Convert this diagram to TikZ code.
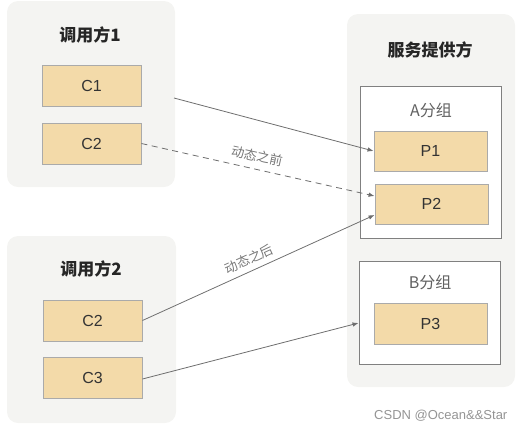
\documentclass[tikz,border=0pt]{standalone}
\usepackage{fontspec}
\setmainfont{Liberation Sans}
\newfontfamily\cjk{Noto Sans CJK SC}
\usetikzlibrary{arrows.meta}
\definecolor{panelgray}{HTML}{F4F4F2}
\definecolor{tan}{HTML}{F3DAA9}
\definecolor{tanborder}{HTML}{AAAAAA}
\definecolor{grpborder}{HTML}{808080}
\definecolor{linegray}{HTML}{6E6E6E}
\definecolor{labelgray}{HTML}{777777}
\definecolor{textdark}{HTML}{333333}
\tikzset{
  panel/.style={fill=panelgray, draw=none, rounded corners=11pt, inner sep=0pt},
  itembox/.style={fill=tan, draw=tanborder, line width=0.9pt, inner sep=0pt,
    minimum width=99pt, minimum height=41pt, font=\fontsize{16}{18}\selectfont, text=textdark},
  pbox/.style={itembox, minimum width=113pt, minimum height=40pt},
  grpbox/.style={fill=white, draw=grpborder, line width=0.9pt, inner sep=0pt},
  titletext/.style={font=\cjk\bfseries\fontsize{17}{19}\selectfont, text=black!85},
  grptext/.style={font=\cjk\fontsize{16}{18}\selectfont, text=black!62},
  conn/.style={draw=linegray, line width=0.8pt, -{Latex[length=6pt,width=4.5pt]}},
  connlabel/.style={font=\cjk\fontsize{13}{15}\selectfont, text=labelgray, inner sep=1pt}
}
\begin{document}
\begin{tikzpicture}[x=1pt,y=-1pt]
\useasboundingbox (0,0) rectangle (524,432);
% panels
\node[panel, minimum width=168pt, minimum height=186pt] (L1) at (91,94) {};
\node[panel, minimum width=169pt, minimum height=187pt] (L2) at (91.5,329.5) {};
\node[panel, minimum width=168pt, minimum height=373pt] (R) at (431,200.5) {};
% titles
\node[titletext] (t1) at (90,35) {调用方1};
\node[titletext] (t2) at (91,269) {调用方2};
\node[titletext] (t3) at (430,50) {服务提供方};
% group boxes
\node[grpbox, minimum width=141pt, minimum height=152pt] (GA) at (430.5,162) {};
\node[grpbox, minimum width=141pt, minimum height=103pt] (GB) at (429.5,312.5) {};
\node[grptext] (ga) at (431,110) {A分组};
\node[grptext] (gb) at (430,282) {B分组};
% items
\node[itembox] (C1) at (91.5,85.5) {C1};
\node[itembox] (C2a) at (91.5,143.5) {C2};
\node[itembox] (C2b) at (92.5,320.5) {C2};
\node[itembox] (C3) at (92.5,377.5) {C3};
\node[pbox] (P1) at (430.5,151) {P1};
\node[pbox] (P2) at (431.5,204) {P2};
\node[pbox, minimum height=41pt] (P3) at (430.5,323.5) {P3};
% connectors
\coordinate (c1start) at (174,98);
\draw[conn] (c1start) -- (P1.west);
\draw[conn, dash pattern=on 6pt off 4.5pt] (C2a.east) -- ([yshift=8pt]P2.west);
\draw[conn] (C2b.east) -- ([yshift=-11pt]P2.west);
\draw[conn] ([yshift=-1.5pt]C3.east) -- ([yshift=-10.5pt]GB.west);
% labels
\node[connlabel, rotate=-12.5] (lb1) at (257,156) {动态之前};
\node[connlabel, rotate=24.5] (lb2) at (249,259) {动态之后};
% watermark
\node[font=\fontsize{13}{15}\selectfont, text=black!42, anchor=west, inner sep=0pt] (wm) at (374,416) {CSDN @Ocean\&\&Star};
\end{tikzpicture}
\end{document}
